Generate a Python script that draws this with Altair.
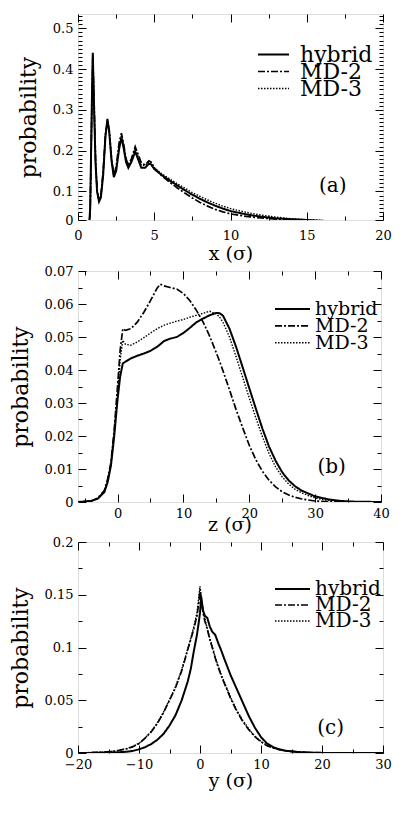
import altair as alt
import pandas as pd

SERIES = ["hybrid", "MD-2", "MD-3"]
DASHES = [[1, 0], [7, 2, 2, 2], [1.5, 1.5]]
WIDTHS = [2.0, 1.4, 1.4]
FONT = "DejaVu Serif"

A_X = [0.70, 0.80, 0.90, 0.97, 1.05, 1.15, 1.25, 1.38, 1.50, 1.65,
       1.80, 1.93, 2.05, 2.20, 2.35, 2.50, 2.70, 2.85, 3.00, 3.15,
       3.30, 3.50, 3.75, 3.95, 4.15, 4.40, 4.65, 4.80, 5.00, 5.50,
       6.00, 6.50, 7.00, 7.50, 8.00, 8.50, 9.00, 9.50, 10.0, 11.0,
       12.0, 13.0, 14.0, 15.0, 16.0, 17.0]
A_HYBRID = [0.0, 0.06, 0.30, 0.44, 0.31, 0.17, 0.10, 0.075, 0.085, 0.14,
            0.235, 0.278, 0.245, 0.175, 0.135, 0.15, 0.205, 0.232, 0.205, 0.172,
            0.158, 0.172, 0.198, 0.178, 0.158, 0.158, 0.168, 0.166, 0.155, 0.140,
            0.127, 0.115, 0.103, 0.092, 0.082, 0.073, 0.065, 0.058, 0.052, 0.044,
            0.038, 0.034, 0.032, 0.030, 0.028, 0.025]
A_MD2 = [0.0, 0.05, 0.28, 0.43, 0.33, 0.18, 0.105, 0.078, 0.09, 0.15,
         0.24, 0.272, 0.25, 0.18, 0.14, 0.16, 0.22, 0.243, 0.215, 0.18,
         0.165, 0.18, 0.21, 0.19, 0.17, 0.165, 0.175, 0.172, 0.158, 0.138,
         0.123, 0.109, 0.096, 0.084, 0.073, 0.064, 0.056, 0.050, 0.045, 0.039,
         0.035, 0.032, 0.030, 0.029, 0.027, 0.024]
A_MD3 = [0.0, 0.055, 0.29, 0.435, 0.32, 0.175, 0.10, 0.077, 0.088, 0.145,
         0.238, 0.275, 0.248, 0.178, 0.138, 0.155, 0.212, 0.238, 0.21, 0.176,
         0.162, 0.176, 0.205, 0.185, 0.165, 0.163, 0.172, 0.17, 0.158, 0.143,
         0.131, 0.119, 0.108, 0.097, 0.088, 0.079, 0.071, 0.064, 0.058, 0.049,
         0.042, 0.037, 0.033, 0.031, 0.029, 0.026]
A_XDOM = [0, 20]
A_YDOM = [0.03, 0.535]
A_XTICKS = [0, 5, 10, 15, 20]
A_XMINOR = [2.5, 7.5, 12.5, 17.5]
A_YTICKS = [0.03, 0.1, 0.2, 0.3, 0.4, 0.5]
A_YMINOR = [round(0.01 * i, 2) for i in range(4, 54) if i % 10 != 0]
A_TAG = ["(a)", 16.7, 0.114]

B_X = [-6, -4, -3, -2, -1.5, -1, -0.5, 0, 0.4, 0.8,
       1.2, 2, 3, 4, 5, 6, 6.5, 7, 8, 9,
       10, 11, 12, 13, 14, 15, 15.5, 16, 17, 18,
       19, 20, 21, 22, 23, 24, 25, 26, 27, 28,
       30, 32, 34, 36, 40]
B_HYBRID = [0, 0.0003, 0.001, 0.003, 0.006, 0.011, 0.02, 0.031, 0.038, 0.042,
            0.0425, 0.0435, 0.0443, 0.045, 0.0458, 0.047, 0.0478, 0.0487, 0.0495, 0.050,
            0.0512, 0.0528, 0.0545, 0.0556, 0.0566, 0.0573, 0.0572, 0.0565, 0.0525, 0.047,
            0.0408, 0.0345, 0.0283, 0.0222, 0.0168, 0.0125, 0.009, 0.0065, 0.0047, 0.0034,
            0.0017, 0.0008, 0.0003, 0.0001, 0]
B_MD2 = [0, 0.0003, 0.0012, 0.0035, 0.007, 0.012, 0.022, 0.035, 0.046, 0.0525,
         0.052, 0.0525, 0.0545, 0.0575, 0.061, 0.0648, 0.066, 0.0655, 0.065, 0.0645,
         0.0632, 0.0610, 0.058, 0.0545, 0.0502, 0.0452, 0.0426, 0.0398, 0.034, 0.028,
         0.0225, 0.0172, 0.0128, 0.0093, 0.0066, 0.0046, 0.0031, 0.0021, 0.0014, 0.0009,
         0.0003, 0.0001, 0, 0, 0]
B_MD3 = [0, 0.0003, 0.0011, 0.0033, 0.0065, 0.0115, 0.021, 0.033, 0.043, 0.049,
         0.0478, 0.0475, 0.0485, 0.0498, 0.0512, 0.0525, 0.053, 0.0535, 0.0542, 0.0548,
         0.0553, 0.056, 0.0566, 0.0572, 0.0578, 0.057, 0.056, 0.0545, 0.050, 0.044,
         0.0378, 0.0315, 0.0255, 0.0198, 0.0147, 0.0106, 0.0076, 0.0054, 0.0038, 0.0027,
         0.0012, 0.0005, 0.0002, 0, 0]
B_XDOM = [-6, 40]
B_YDOM = [0, 0.07]
B_XTICKS = [0, 10, 20, 30, 40]
B_XMINOR = [-5, 5, 15, 25, 35]
B_YTICKS = [0, 0.01, 0.02, 0.03, 0.04, 0.05, 0.06, 0.07]
B_YMINOR = [0.005, 0.015, 0.025, 0.035, 0.045, 0.055, 0.065]
B_TAG = ["(b)", 32.5, 0.0107]

C_X = [-20, -16, -14, -12, -11, -10, -9, -8, -7, -6,
       -5, -4, -3, -2, -1.5, -1, -0.5, -0.2, 0, 0.2,
       0.5, 0.8, 1.2, 1.6, 2, 2.5, 3, 3.5, 4, 5,
       6, 7, 8, 9, 10, 11, 12, 13, 14, 16,
       18, 20, 25, 30]
C_HYBRID = [0, 0.0002, 0.0005, 0.0012, 0.002, 0.0035, 0.0055, 0.0085, 0.0125, 0.018,
            0.026, 0.036, 0.05, 0.068, 0.08, 0.097, 0.112, 0.124, 0.133, 0.148,
            0.135, 0.13, 0.128, 0.12, 0.115, 0.112, 0.104, 0.097, 0.089, 0.074,
            0.061, 0.048, 0.035, 0.024, 0.015, 0.009, 0.0055, 0.0035, 0.0022, 0.001,
            0.0004, 0.0001, 0, 0]
C_MD2 = [0, 0.0007, 0.0017, 0.004, 0.006, 0.009, 0.014, 0.02, 0.028, 0.038,
         0.05, 0.062, 0.078, 0.098, 0.108, 0.118, 0.13, 0.142, 0.155, 0.146,
         0.133, 0.125, 0.117, 0.108, 0.1, 0.09, 0.081, 0.073, 0.066, 0.052,
         0.04, 0.03, 0.022, 0.0155, 0.0105, 0.007, 0.0047, 0.0031, 0.002, 0.0009,
         0.0004, 0.0001, 0, 0]
C_MD3 = [0, 0.0008, 0.0018, 0.0042, 0.0062, 0.0092, 0.0142, 0.0205, 0.0285, 0.0385,
         0.0505, 0.063, 0.079, 0.099, 0.109, 0.12, 0.133, 0.148, 0.158, 0.148,
         0.135, 0.127, 0.118, 0.109, 0.101, 0.091, 0.082, 0.074, 0.067, 0.053,
         0.041, 0.031, 0.0228, 0.016, 0.011, 0.0073, 0.0049, 0.0032, 0.0021, 0.001,
         0.0004, 0.0001, 0, 0]
C_XDOM = [-20, 30]
C_YDOM = [0, 0.2]
C_XTICKS = [-20, -10, 0, 10, 20, 30]
C_XMINOR = [-15, -5, 5, 15, 25]
C_YTICKS = [0, 0.05, 0.1, 0.15, 0.2]
C_YMINOR = [0.025, 0.075, 0.125, 0.175]
C_TAG = ["(c)", 21.4, 0.0234]


def long_df(xs, series_values):
    rows = []
    for name, ys in zip(SERIES, series_values):
        for x, y in zip(xs, ys):
            rows.append({"x": x, "y": y, "series": name})
    return pd.DataFrame(rows)


def axis(orient, values, size, labels=False, title=None, title_size=19,
         title_pad=2, label_pad=5, label_expr="format(datum.value, '~g')"):
    kw = dict(orient=orient, values=values, tickSize=size, offset=-size,
              domain=False, grid=False, ticks=True, tickColor="black",
              tickWidth=1, labels=labels, title=title, minExtent=0)
    if labels:
        kw.update(labelFont=FONT, labelFontSize=13, labelColor="black",
                  labelPadding=label_pad, labelExpr=label_expr,
                  labelFlush=False, labelOverlap=False)
    if title:
        kw.update(titleFont=FONT, titleFontSize=title_size,
                  titleFontWeight="normal", titleColor="black",
                  titlePadding=title_pad)
    return alt.Axis(**kw)


def panel(df, xdom, ydom, w, h, xtitle, xmaj, xmin, ymaj, ymin, tag,
          leg, x_lpad, x_tpad, y_tpad=12,
          yexpr="format(datum.value, '~g')"):
    xs = alt.Scale(domain=xdom, nice=False, zero=False)
    ys = alt.Scale(domain=ydom, nice=False, zero=False)
    legend = alt.Legend(orient="none", legendX=leg["x"], legendY=leg["y"],
                        symbolType="stroke", symbolSize=leg["sym"],
                        symbolStrokeWidth=1.6, symbolStrokeColor="black",
                        labelFont=FONT, labelFontSize=leg["font"],
                        labelColor="black", labelOffset=leg["off"],
                        clipHeight=12, rowPadding=leg["pad"], padding=0)
    lines = alt.Chart(df).mark_line(clip=True, color="black").encode(
        x=alt.X("x:Q", scale=xs,
                axis=axis("bottom", xmaj, 8, labels=True, title=xtitle,
                          label_pad=x_lpad, title_pad=x_tpad)),
        y=alt.Y("y:Q", scale=ys,
                axis=axis("left", ymaj, 8, labels=True, title="probability",
                          title_size=22, label_pad=5, title_pad=y_tpad,
                          label_expr=yexpr)),
        strokeDash=alt.StrokeDash("series:N", title=None,
                                  scale=alt.Scale(domain=SERIES, range=DASHES),
                                  legend=legend),
        strokeWidth=alt.StrokeWidth("series:N",
                                    scale=alt.Scale(domain=SERIES, range=WIDTHS),
                                    legend=None),
    )

    def dummy(xo, xv, xsz, yo, yv, ysz):
        return alt.Chart(df).mark_line(opacity=0, clip=True).encode(
            x=alt.X("x:Q", scale=xs, axis=axis(xo, xv, xsz)),
            y=alt.Y("y:Q", scale=ys, axis=axis(yo, yv, ysz)),
            detail="series:N",
        )

    layers = [lines,
              dummy("bottom", xmin, 4, "left", ymin, 4),
              dummy("top", xmaj, 8, "right", ymaj, 8),
              dummy("top", xmin, 4, "right", ymin, 4)]
    tag_df = pd.DataFrame({"x": [tag[1]], "y": [tag[2]], "t": [tag[0]]})
    layers.append(alt.Chart(tag_df).mark_text(font=FONT, fontSize=20, color="black").encode(
        x=alt.X("x:Q", scale=xs, axis=None),
        y=alt.Y("y:Q", scale=ys, axis=None),
        text="t:N",
    ))
    return alt.layer(*layers).resolve_axis(
        x="independent", y="independent").properties(width=w, height=h)


pa = panel(long_df(A_X, [A_HYBRID, A_MD2, A_MD3]), A_XDOM, A_YDOM, 305, 206,
           "x (σ)", A_XTICKS, A_XMINOR, A_YTICKS, A_YMINOR, A_TAG,
           dict(x=179, y=34.5, sym=961, font=22, off=10, pad=-6.6),
           x_lpad=9, x_tpad=2,
           yexpr="datum.value < 0.05 ? '0' : format(datum.value, '~g')")
pb = panel(long_df(B_X, [B_HYBRID, B_MD2, B_MD3]), B_XDOM, B_YDOM, 303, 231,
           "z (σ)", B_XTICKS, B_XMINOR, B_YTICKS, B_YMINOR, B_TAG,
           dict(x=196, y=32, sym=1225, font=19, off=4, pad=-2.1),
           x_lpad=5, x_tpad=-4.5)
pc = panel(long_df(C_X, [C_HYBRID, C_MD2, C_MD3]), C_XDOM, C_YDOM, 305, 211,
           "y (σ)", C_XTICKS, C_XMINOR, C_YTICKS, C_YMINOR, C_TAG,
           dict(x=196, y=41, sym=1225, font=20, off=4, pad=-12),
           x_lpad=5, x_tpad=0)

chart = alt.vconcat(pa, pb, pc, spacing=0).resolve_scale(
    x="independent", y="independent",
    strokeDash="independent", strokeWidth="independent",
).properties(
    padding={"left": 0, "top": 5, "right": 0, "bottom": 0}
).configure_view(stroke="black", strokeWidth=1.5).configure(background="white")

chart.save("out.html", embed_options={"renderer": "svg", "actions": False})
